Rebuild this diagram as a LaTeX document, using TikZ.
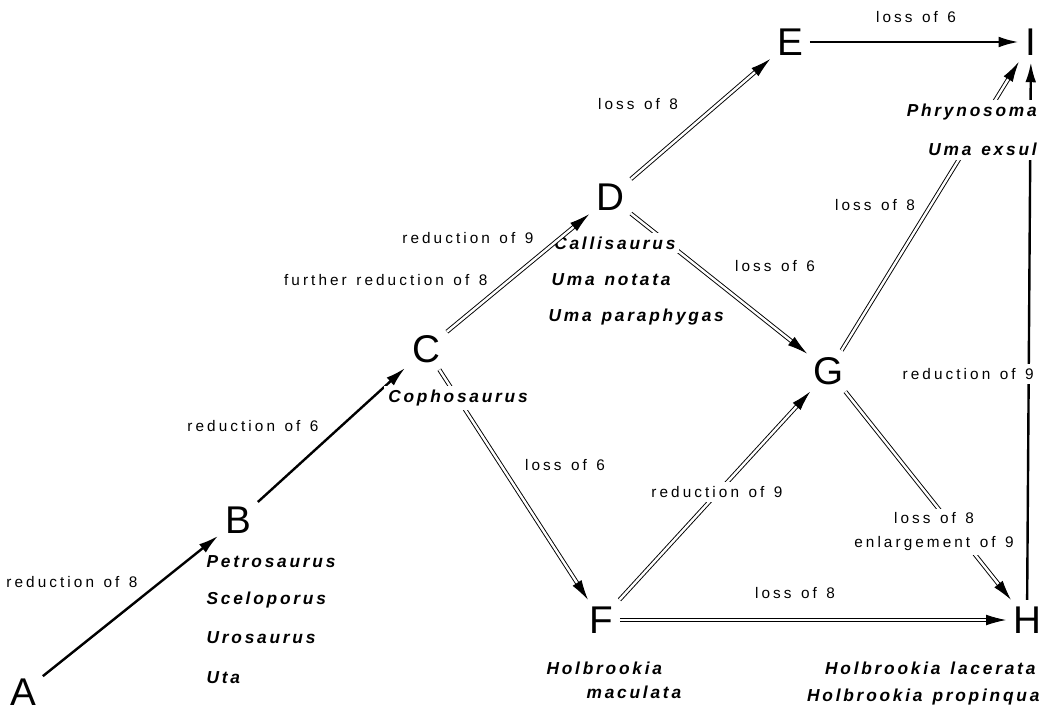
\documentclass[tikz,border=0pt]{standalone}
\usepackage{fontspec}
\setmainfont{Liberation Sans}
\newfontfamily\lblfont{Liberation Sans}[LetterSpace=20,WordSpace=1.3]
\newfontfamily\spfont{Liberation Sans}[LetterSpace=16,WordSpace=1.3]
\usetikzlibrary{arrows.meta}

\tikzset{
  taxon/.style={font=\fontsize{29}{30}\selectfont, inner sep=5pt},
  change/.style={font=\lblfont\fontsize{11.5}{13}\selectfont, inner sep=1pt},
  species/.style={font=\spfont\bfseries\itshape\fontsize{13}{15}\selectfont, inner sep=1pt},
  cover/.style={fill=white, inner sep=3pt},
  single/.style={line width=1.8pt, -{Latex[length=15pt,width=8pt]}},
  twin/.style={double, double distance=1.8pt, line width=0.7pt, -{Latex[length=15pt,width=8pt]}},
}

\begin{document}
\begin{tikzpicture}[x=0.75pt,y=-0.75pt]
  \useasboundingbox (0,0) rectangle (1044,717);

  % character states
  \node[taxon] (A) at (23,692) {A};
  \node[taxon] (B) at (238,520) {B};
  \node[taxon] (C) at (426,349) {C};
  \node[taxon] (D) at (610,197) {D};
  \node[taxon] (E) at (790,42) {E};
  \node[taxon] (I) at (1031,42) {I};
  \node[taxon] (G) at (829,371) {G};
  \node[taxon] (F) at (601,620) {F};
  \node[taxon] (H) at (1027,620) {H};

  % transitions
  \draw[single] (A) -- (B);
  \draw[single] (B) -- (C);
  \draw[twin] (C) -- (F);
  \draw[twin] (D) -- (E);
  \draw[twin] (D) -- (G);
  \draw[single] (E) -- (I);
  \draw[twin] (F) -- (G);
  \draw[twin] (F) -- (H);
  \draw[twin] (G) -- (H);
  \draw[twin] (G) -- (I);
  \draw[single] (H) -- (I);

  % changes along the edges
  \node[change] (ab) at (72,582) {reduction of 8};
  \node[change] (bc) at (253,426) {reduction of 6};
  \node[change,anchor=east] (cd1) at (535,238) {reduction of 9};
  \node[change,anchor=east] (cd2) at (489,280) {further reduction of 8};
  \node[change] (de) at (638,104) {loss of 8};
  \node[change] (ei) at (916,17) {loss of 6};
  \node[change] (dg) at (775,266) {loss of 6};
  \node[change] (cf) at (565,465) {loss of 6};
  \node[change] (gi) at (875,205) {loss of 8};
  \node[change,cover,anchor=east] (hi) at (1038,374) {reduction of 9};
  \node[change,cover] (fg) at (717,492) {reduction of 9};
  \node[change] (fh) at (795,593) {loss of 8};
  \node[change,cover,align=center] (gh) at (934,532) {loss of 8\\[5pt]enlargement of 9};

  % genera
  \node[species,anchor=west] (petro) at (205,562) {Petrosaurus};
  \node[species,anchor=west] (scelo) at (205,600) {Sceloporus};
  \node[species,anchor=west] (uro) at (205,638) {Urosaurus};
  \node[species,anchor=west] (uta) at (205,678) {Uta};
  \node[species,cover,anchor=west] (copho) at (384,398) {Cophosaurus};
  \node[species,cover,anchor=west] (calli) at (550,243) {Callisaurus};
  \node[species,anchor=west] (notata) at (550,280) {Uma notata};
  \node[species,anchor=west] (para) at (547,317) {Uma paraphygas};
  \node[species,cover,anchor=east,align=right] (phry) at (1041,130) {Phrynosoma\\[14pt]Uma exsul};
  \node[species,anchor=west] (holb) at (545,668) {Holbrookia};
  \node[species,anchor=west] (macu) at (585,692) {maculata};
  \node[species,anchor=east] (lace) at (1037,668) {Holbrookia lacerata};
  \node[species,anchor=east] (prop) at (1041,697) {Holbrookia propinqua};

  \draw[twin] (C) -- (D);
\end{tikzpicture}
\end{document}
